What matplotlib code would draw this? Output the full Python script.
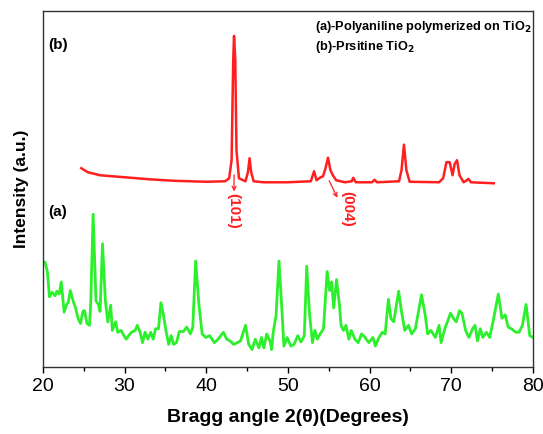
import numpy as np
import matplotlib.pyplot as plt

plt.rcParams['font.family'] = ['Liberation Sans', 'DejaVu Sans']

# (a) polyaniline on TiO2 : green trace
angle_a = [20.0, 20.25, 20.55, 20.8, 21.1, 21.5, 21.7, 22.0, 22.25, 22.6, 22.9, 23.1, 23.35, 23.7,
           24.0, 24.3, 24.6, 24.9, 25.1, 25.4, 25.7, 25.85, 26.15, 26.5, 26.8, 27.0, 27.3, 27.65,
           27.95, 28.3, 28.5, 28.9, 29.15, 29.6, 29.8, 30.2, 30.5, 30.85, 31.3, 31.55, 31.9, 32.2,
           32.5, 32.85, 33.2, 33.5, 33.8, 34.15, 34.45, 34.75, 35.1, 35.4, 35.7, 36.0, 36.35, 36.7,
           37.2, 37.6, 38.05, 38.35, 38.7, 39.1, 39.5, 39.95, 40.4, 40.7, 41.0, 41.45, 42.1, 42.5,
           42.9, 43.35, 43.8, 44.2, 44.8, 45.2, 45.6, 46.0, 46.45, 46.75, 47.05, 47.4, 47.8, 48.0,
           48.2, 48.55, 48.9, 49.3, 49.5, 49.9, 50.35, 50.75, 51.2, 51.6, 52.0, 52.3, 52.65, 53.0,
           53.3, 53.6, 53.95, 54.35, 54.8, 55.1, 55.35, 55.6, 55.95, 56.3, 56.5, 56.8, 57.1, 57.45,
           57.75, 58.2, 58.6, 59.0, 59.45, 59.9, 60.4, 60.7, 61.15, 61.55, 61.9, 62.3, 62.6, 62.95,
           63.55, 63.9, 64.3, 64.75, 65.15, 65.6, 66.35, 66.8, 67.1, 67.5, 68.05, 68.5, 68.75, 69.2,
           69.6, 69.9, 70.25, 70.6, 71.0, 71.3, 71.75, 72.15, 72.6, 72.9, 73.2, 73.55, 73.85, 74.3,
           74.7, 75.1, 75.75, 76.2, 76.6, 76.95, 77.35, 77.9, 78.3, 78.7, 79.15, 79.6, 80.0]
inten_a = [103.7, 104.4, 95, 69.7, 74.2, 70.8, 75.3, 72.5, 84.6, 54.5, 62.1, 63.9, 76, 65.6,
           58.7, 48.3, 43.1, 55.2, 55.9, 43.1, 41.3, 62.1, 152.1, 65.6, 62.1, 55.2, 122.7, 65.6,
           44.8, 61.4, 36.2, 44.8, 34.4, 36.2, 32.7, 27.5, 31, 34.4, 36.2, 41.3, 34.4, 24,
           34.4, 27.5, 34.4, 27.5, 37.9, 37.9, 63.9, 51.7, 34.4, 22.3, 31, 22.3, 24, 35.1,
           35.1, 39.6, 32.7, 39.6, 105.4, 62.1, 32.7, 29.2, 31, 27.5, 24, 27.5, 34.4, 27.5,
           25.8, 22.3, 24, 25.8, 41.3, 22.3, 17.1, 27.5, 18.8, 29.2, 18.8, 32.7, 25.8, 17.1,
           34.4, 51.7, 105.4, 51.7, 20.6, 29.2, 20.6, 22.3, 31, 24.7, 31, 100.2, 51.7, 24,
           36.2, 27.5, 32.7, 37.9, 95, 76, 84.6, 58.7, 87, 62.1, 41.3, 36.2, 41.3, 27.5,
           36.2, 27.5, 24, 32.7, 29.2, 24, 29.2, 20.6, 29.2, 34.4, 32.7, 67.3, 48.3, 44.8,
           75.3, 55.2, 36.2, 41.3, 32.7, 37.9, 71.8, 51.7, 32.7, 36.2, 29.2, 41.3, 24, 37.9,
           46.5, 53.5, 48.3, 44.8, 55.9, 53.5, 36.2, 29.2, 37.9, 41.3, 25.8, 37.9, 29.2, 34.4,
           29.2, 44.8, 72.5, 48.3, 51.7, 39.6, 37.9, 34.4, 34.4, 41.3, 62.1, 31, 29.2]

# (b) pristine TiO2 : red trace
angle_b = [24.7, 25.5, 27, 30, 33, 36, 40, 42.3, 42.8, 43.1, 43.3, 43.4, 43.55, 43.7, 44.0, 44.8,
           45.1, 45.3, 45.5, 45.8, 47, 50, 52.8, 53.2, 53.5, 54.0, 54.3, 54.6, 54.9, 55.2, 55.5,
           55.9, 57, 57.8, 58.0, 58.3, 60.3, 60.6, 60.9, 63.6, 63.9, 64.2, 64.5, 64.9, 68.5, 69.0,
           69.4, 69.8, 70.15, 70.4, 70.7, 71.0, 71.5, 71.9, 72.1, 72.4, 75.2]
inten_b = [198, 194, 191, 189, 187, 185.5, 184.5, 185, 188, 206, 306, 330, 306, 216, 188, 185,
           194, 208, 194, 185, 184, 184, 185, 195, 186, 189, 190, 198, 208.5, 196, 191,
           186, 184, 185, 188.5, 184, 184, 186.5, 184, 185, 196, 221.5, 196, 184.5, 184, 188,
           204, 204, 191, 202, 206, 191, 184, 186, 187.5, 184, 183]

planes = ['(101)', '(004)']
plane_peak = [(43.4, 194), (54.9, 188)]
plane_tip = [(43.4, 172), (56.2, 166)]
plane_text = [(43.3, 155), (57.3, 157)]

fig = plt.figure(figsize=(5.43, 4.34), dpi=100)
ax = fig.add_axes([0.079, 0.155, 0.9026, 0.82])

ax.plot(angle_a, inten_a, color='#2bf02b', lw=2.0)
ax.plot(angle_b, inten_b, color='#ff1f1f', lw=1.8)

for lab, p0, p1, pt in zip(planes, plane_peak, plane_tip, plane_text):
    ax.annotate('', xy=p1, xytext=p0,
                arrowprops=dict(arrowstyle='->', color='#ff1f1f', lw=0.9, mutation_scale=7))
    ax.text(pt[0], pt[1], lab, color='#ff1f1f', rotation=-90, fontsize=11, fontweight='bold',
            ha='center', va='center')

ax.text(20.6, 321, '(b)', fontsize=11, fontweight='bold', va='center')
ax.text(20.6, 154, '(a)', fontsize=11, fontweight='bold', va='center')
ax.text(53.3, 339, '(a)-Polyaniline polymerized on TiO$_\\mathbf{2}$', fontsize=9.2,
        fontweight='bold', va='center')
ax.text(53.3, 319, '(b)-Prsitine TiO$_\\mathbf{2}$', fontsize=9.2, fontweight='bold', va='center')

ax.set_xlim(20, 80)
ax.set_ylim(0, 355)
ax.set_xticks(np.arange(20, 81, 10))
ax.set_xticks(np.arange(25, 80, 10), minor=True)
ax.set_yticks([])
ax.tick_params(axis='x', which='both', direction='out', length=4, width=1, labelsize=14, pad=4)
ax.tick_params(axis='x', which='minor', length=3)
for s in ax.spines.values():
    s.set_color('#333333')
    s.set_linewidth(1.0)

ax.set_xlabel('Bragg angle 2(\u03b8)(Degrees)', fontsize=14, fontweight='bold', labelpad=10)
ax.set_ylabel('Intensity (a.u.)', fontsize=12.5, fontweight='bold', labelpad=10)

fig.savefig('out.png', dpi=100)
